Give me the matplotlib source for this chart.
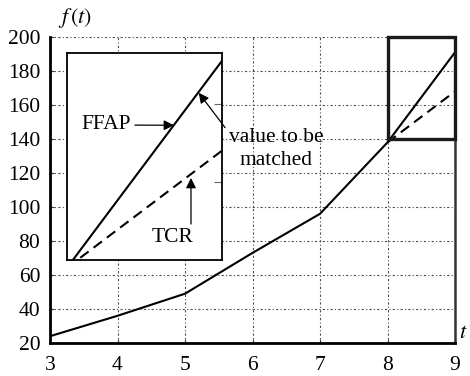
import matplotlib
matplotlib.use("Agg")
import matplotlib.pyplot as plt
from matplotlib.patches import Rectangle

plt.rcParams['font.family'] = ['Liberation Serif', 'DejaVu Serif']
plt.rcParams['mathtext.fontset'] = 'stix'

# données
t = [3, 4, 5, 6, 7, 8, 9]
f_ffap = [24, 36, 49, 73, 96, 138, 191]
t_tcr = [8, 9]
f_tcr = [138, 168]
xticks = [3, 4, 5, 6, 7, 8, 9]
yticks = [20, 40, 60, 80, 100, 120, 140, 160, 180, 200]

W, H = 470, 376


def px(x, y):
    # pixels de l'image -> fraction de figure
    return (x / W, 1 - y / H)


fig = plt.figure(figsize=(4.7, 3.76), dpi=100)
ax = fig.add_axes([50 / W, 1 - 343 / H, 405 / W, 306 / H])

ax.plot(t, f_ffap, color='black', lw=1.5)
ax.plot(t_tcr, f_tcr, color='black', lw=1.5, dashes=(5, 3))
ax.set_xlim(3, 9)
ax.set_ylim(20, 200)
ax.set_xticks(xticks)
ax.set_yticks(yticks)
ax.tick_params(direction='in', length=3, labelsize=15.5, pad=7, color='0.2')
ax.tick_params(axis='x', pad=9)
ax.grid(True, color='0.3', lw=0.8, linestyle=(0, (2, 2, 1, 2)))
ax.spines['top'].set_visible(False)
ax.spines['left'].set_linewidth(2)
ax.spines['bottom'].set_linewidth(2)
ax.spines['right'].set_linewidth(1.8)
ax.spines['right'].set_color('0.2')

# zone agrandie
ax.add_patch(Rectangle((8, 140), 1, 60, fill=False, lw=2.4, color='0.1',
                       clip_on=False, zorder=5))

fig.text(*px(75, 18), '$f\\,(t)$', fontsize=16, ha='center', va='center')
fig.text(*px(459, 333), '$t$', fontsize=16, ha='left', va='center')

# encart
ins = fig.add_axes([67 / W, 1 - 260 / H, 155 / W, 207 / H])
ins.plot(t, f_ffap, color='black', lw=1.5)
ins.plot(t_tcr, f_tcr, color='black', lw=1.5, dashes=(5, 3))
ins.set_xlim(8, 9)
ins.set_ylim(140, 193)
ins.set_xticks([])
ins.set_yticks([160, 180])
ins.yaxis.tick_right()
ins.tick_params(axis='y', direction='in', length=6, labelright=False,
                color='0.4')
for s in ins.spines.values():
    s.set_linewidth(1.3)

fleche = dict(arrowstyle='-|>', color='black', lw=0.9,
              mutation_scale=15, shrinkA=1, shrinkB=0)

ins.annotate('FFAP', xy=(8.69, 174.5), xycoords='data',
             xytext=px(106, 125), textcoords='figure fraction',
             fontsize=15.5, ha='center', va='center', arrowprops=fleche)
ins.annotate('value to be\nmatched', xy=(8.85, 182.8), xycoords='data',
             xytext=px(276, 149), textcoords='figure fraction',
             fontsize=15.5, ha='center', va='center', multialignment='center',
             linespacing=1.25, annotation_clip=False,
             arrowprops=dict(fleche, relpos=(0.0, 0.9)))
fig.text(*px(173, 238), 'TCR', fontsize=15.5, ha='center', va='center')
ins.annotate('', xy=(8.80, 161.0), xycoords='data',
             xytext=px(191, 224), textcoords='figure fraction',
             arrowprops=dict(fleche, shrinkA=0))

fig.savefig('out.png', dpi=100)
